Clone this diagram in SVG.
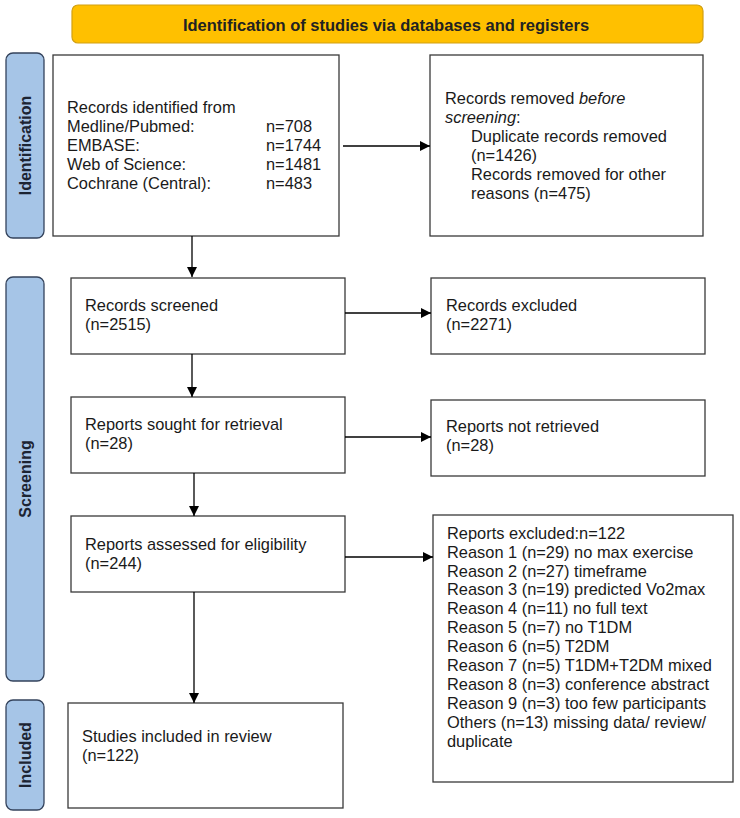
<svg xmlns="http://www.w3.org/2000/svg" width="740" height="818" viewBox="0 0 740 818">
  <defs>
    <style>
      .box { fill: #ffffff; stroke: #3a3a3a; stroke-width: 1.3; }
      .side { fill: #a6c5e7; stroke: #34435c; stroke-width: 1.3; }
      .hdr { fill: #ffc000; stroke: #d2a012; stroke-width: 1.2; }
      .t { font-family: "Liberation Sans", Arial, sans-serif; font-size: 16.4px; fill: #1a1a1a; }
      .b { font-family: "Liberation Sans", Arial, sans-serif; font-size: 16px; font-weight: bold; fill: #1c2433; }
      .hb { font-family: "Liberation Sans", Arial, sans-serif; font-size: 16.5px; font-weight: bold; fill: #222222; }
      .conn { stroke: #000000; stroke-width: 1.3; fill: none; marker-end: url(#arr); }
    </style>
    <marker id="arr" markerUnits="userSpaceOnUse" markerWidth="11" markerHeight="10" refX="10" refY="5" orient="auto">
      <path d="M0,0 L10,5 L0,10 z" fill="#000000"/>
    </marker>
  </defs>
  <rect width="740" height="818" fill="#ffffff"/>

  <g id="header">
    <rect class="hdr" x="72" y="5" width="631" height="38" rx="6"/>
    <text class="hb" x="386" y="31" text-anchor="middle">Identification of studies via databases and registers</text>
  </g>

  <g id="side-identification">
    <rect class="side" x="6" y="53" width="38" height="185" rx="7"/>
    <text class="b" transform="translate(31,145.5) rotate(-90)" text-anchor="middle">Identification</text>
  </g>
  <g id="side-screening">
    <rect class="side" x="6" y="277" width="38" height="404" rx="7"/>
    <text class="b" transform="translate(31,479) rotate(-90)" text-anchor="middle">Screening</text>
  </g>
  <g id="side-included">
    <rect class="side" x="6" y="700" width="38" height="110" rx="7"/>
    <text class="b" transform="translate(31,755) rotate(-90)" text-anchor="middle">Included</text>
  </g>

  <g id="records-identified">
    <rect class="box" x="53" y="55" width="286" height="181"/>
    <text class="t" x="67" y="113">Records identified from</text>
    <text class="t" x="67" y="132">Medline/Pubmed:</text>
    <text class="t" x="67" y="151">EMBASE:</text>
    <text class="t" x="67" y="170">Web of Science:</text>
    <text class="t" x="67" y="189">Cochrane (Central):</text>
    <text class="t" x="266" y="132">n=708</text>
    <text class="t" x="266" y="151">n=1744</text>
    <text class="t" x="266" y="170">n=1481</text>
    <text class="t" x="266" y="189">n=483</text>
  </g>

  <g id="records-removed">
    <rect class="box" x="430" y="55" width="273" height="181"/>
    <text class="t" x="445" y="104">Records removed <tspan font-style="italic">before</tspan></text>
    <text class="t" x="445" y="123"><tspan font-style="italic">screening</tspan>:</text>
    <text class="t" x="471" y="142">Duplicate records removed</text>
    <text class="t" x="471" y="161">(n=1426)</text>
    <text class="t" x="471" y="180">Records removed for other</text>
    <text class="t" x="471" y="199">reasons (n=475)</text>
  </g>

  <g id="records-screened">
    <rect class="box" x="71" y="278" width="274" height="76"/>
    <text class="t" x="85" y="311">Records screened</text>
    <text class="t" x="85" y="330">(n=2515)</text>
  </g>

  <g id="records-excluded">
    <rect class="box" x="431" y="278" width="274" height="76"/>
    <text class="t" x="446" y="311">Records excluded</text>
    <text class="t" x="446" y="330">(n=2271)</text>
  </g>

  <g id="reports-sought">
    <rect class="box" x="71" y="397" width="274" height="76"/>
    <text class="t" x="85" y="430">Reports sought for retrieval</text>
    <text class="t" x="85" y="449">(n=28)</text>
  </g>

  <g id="reports-not-retrieved">
    <rect class="box" x="431" y="400" width="274" height="76"/>
    <text class="t" x="446" y="432">Reports not retrieved</text>
    <text class="t" x="446" y="451">(n=28)</text>
  </g>

  <g id="reports-assessed">
    <rect class="box" x="71" y="516" width="274" height="76"/>
    <text class="t" x="85" y="550">Reports assessed for eligibility</text>
    <text class="t" x="85" y="569">(n=244)</text>
  </g>

  <g id="reports-excluded">
    <rect class="box" x="433" y="515" width="300" height="267"/>
    <text class="t" x="447" y="539">Reports excluded:n=122</text>
    <text class="t" x="447" y="558">Reason 1 (n=29) no max exercise</text>
    <text class="t" x="447" y="577">Reason 2 (n=27) timeframe</text>
    <text class="t" x="447" y="595">Reason 3 (n=19) predicted Vo2max</text>
    <text class="t" x="447" y="614">Reason 4 (n=11) no full text</text>
    <text class="t" x="447" y="633">Reason 5 (n=7) no T1DM</text>
    <text class="t" x="447" y="652">Reason 6 (n=5) T2DM</text>
    <text class="t" x="447" y="671">Reason 7 (n=5) T1DM+T2DM mixed</text>
    <text class="t" x="447" y="690">Reason 8 (n=3) conference abstract</text>
    <text class="t" x="447" y="709">Reason 9 (n=3) too few participants</text>
    <text class="t" x="447" y="728">Others (n=13) missing data/ review/</text>
    <text class="t" x="447" y="747">duplicate</text>
  </g>

  <g id="studies-included">
    <rect class="box" x="68" y="703" width="275" height="105"/>
    <text class="t" x="82" y="742">Studies included in review</text>
    <text class="t" x="82" y="761">(n=122)</text>
  </g>

  <g id="connectors">
    <path class="conn" d="M343,146 H430"/>
    <path class="conn" d="M192,236 V277"/>
    <path class="conn" d="M345,313 H431"/>
    <path class="conn" d="M192,354 V397"/>
    <path class="conn" d="M345,437 H431"/>
    <path class="conn" d="M194,473 V516"/>
    <path class="conn" d="M345,557 H433"/>
    <path class="conn" d="M194,592 V703"/>
  </g>
</svg>
